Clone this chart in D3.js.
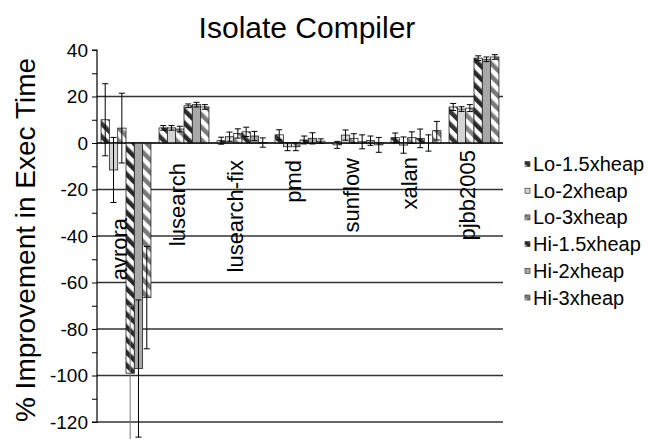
<!DOCTYPE html>
<html>
<head>
<meta charset="utf-8">
<script src="https://cdnjs.cloudflare.com/ajax/libs/d3/7.8.5/d3.min.js"></script>
<style>
body { margin: 0; background: #fff; }
text { font-family: "Liberation Sans", Arial, sans-serif; fill: #000; }
</style>
</head>
<body>
<svg></svg>
<script>
// benchmark groups and series
var benchmarks = ["avrora", "lusearch", "lusearch-fix", "pmd", "sunflow", "xalan", "pjbb2005"]
var seriesNames = ["Lo-1.5xheap", "Lo-2xheap", "Lo-3xheap", "Hi-1.5xheap", "Hi-2xheap", "Hi-3xheap"]

var lo15 = [10, 6.5, 1, 3.5, -0.8, 2.3, 15.5]
var lo2 = [-11.6, 6.5, 2.7, -1.6, 3.4, -0.9, 14.6]
var lo3 = [6.4, 6, 4.1, -1.6, 2, 2.3, 15]
var hi15 = [-99, 16, 4.8, 1.3, 0.5, 2, 36.5]
var hi2 = [-97, 16.5, 3, 2, 1, 0, 36]
var hi3 = [-66.5, 15.5, 0.2, 0.8, -0.8, 5.3, 37]

var lo15Err = [15.5, 1, 1.5, 2.2, 1.5, 2, 1.5]
var lo2Err = [14, 1, 2, 1.7, 2.2, 3.5, 1]
var lo3Err = [15, 1.2, 2, 1.7, 2, 2.5, 1.5]
var hi15Err = [29, 0.8, 2, 1.7, 3, 4, 1]
var hi2Err = [29.5, 1, 2, 2.4, 2, 3.5, 1]
var hi3Err = [22, 1, 2, 1, 3.2, 4, 1]

var yTicks = [-120, -100, -80, -60, -40, -20, 0, 20, 40]

var values = [lo15, lo2, lo3, hi15, hi2, hi3]
var errors = [lo15Err, lo2Err, lo3Err, hi15Err, hi2Err, hi3Err]

var margin = {top: 50, right: 145, bottom: 17, left: 97}
var W = 648, H = 439
var width = W - margin.left - margin.right
var height = H - margin.top - margin.bottom

var svg = d3.select("svg").attr("width", W).attr("height", H)

// fills: hatched patterns and plain greys
var fills = [
  {hatch: true, fg: "#333"},
  {hatch: false, fg: "#d4d4d4"},
  {hatch: true, fg: "#858585"},
  {hatch: true, fg: "#2a2a2a"},
  {hatch: false, fg: "#a8a8a8"},
  {hatch: true, fg: "#7a7a7a"}
]
var defs = svg.append("defs")
fills.forEach(function(f, i) {
  if (!f.hatch) return
  var p = defs.append("pattern")
    .attr("id", "hatch" + i)
    .attr("patternUnits", "userSpaceOnUse")
    .attr("width", 9).attr("height", 9)
    .attr("patternTransform", "rotate(-45)")
  p.append("rect").attr("width", 9).attr("height", 9).attr("fill", "#fff")
  p.append("rect").attr("width", 4.5).attr("height", 9).attr("fill", f.fg)
})
function fillOf(i) { return fills[i].hatch ? "url(#hatch" + i + ")" : fills[i].fg }

var g = svg.append("g").attr("transform", "translate(" + margin.left + "," + margin.top + ")")

var y = d3.scaleLinear().domain([-120, 40]).range([height, 0])
var x0 = d3.scaleBand().domain(benchmarks).range([0, width]).paddingInner(0.14).paddingOuter(0.07)
var x1 = d3.scaleBand().domain(seriesNames).range([0, x0.bandwidth()])

// gridlines
g.append("g").selectAll("line")
  .data(yTicks.filter(function(d) { return d < 40 }))
  .enter().append("line")
  .attr("x1", 0).attr("x2", width)
  .attr("y1", function(d) { return y(d) }).attr("y2", function(d) { return y(d) })
  .attr("stroke", "#333").attr("stroke-width", 1.4)

// bars
var groups = g.append("g").selectAll("g")
  .data(benchmarks)
  .enter().append("g")
  .attr("transform", function(d) { return "translate(" + x0(d) + ",0)" })

groups.each(function(b, bi) {
  var sel = d3.select(this)
  seriesNames.forEach(function(s, si) {
    var v = values[si][bi]
    sel.append("rect")
      .attr("x", x1(s))
      .attr("width", x1.bandwidth())
      .attr("y", y(Math.max(0, v)))
      .attr("height", Math.abs(y(v) - y(0)))
      .attr("fill", fillOf(si))
      .attr("stroke", "#222")
      .attr("stroke-width", 0.8)
  })
})

// error bars
groups.each(function(b, bi) {
  var sel = d3.select(this)
  seriesNames.forEach(function(s, si) {
    var v = values[si][bi], e = errors[si][bi]
    var cx = x1(s) + x1.bandwidth() / 2
    var col = (bi === 0 && si === 3) ? "#777" : "#000"
    sel.append("line").attr("x1", cx).attr("x2", cx)
      .attr("y1", y(v + e)).attr("y2", y(v - e))
      .attr("stroke", col).attr("stroke-width", 1)
    ;[v + e, v - e].forEach(function(t) {
      sel.append("line").attr("x1", cx - 3).attr("x2", cx + 3)
        .attr("y1", y(t)).attr("y2", y(t))
        .attr("stroke", col).attr("stroke-width", 1)
    })
  })
})

// zero line
g.append("line").attr("x1", 0).attr("x2", width)
  .attr("y1", y(0)).attr("y2", y(0)).attr("stroke", "#000").attr("stroke-width", 1.2)

// y axis
var yAxis = d3.axisLeft(y).tickValues(d3.range(-120, 41, 10)).tickSize(5)
  .tickFormat(function(d) { return d % 20 === 0 ? d : "" })
var ya = g.append("g").call(yAxis)
ya.select(".domain").attr("stroke", "#000").attr("stroke-width", 1.2).attr("d", "M-5," + y(40) + "H0V" + y(-120) + "H-5")
ya.selectAll("text").style("font-size", "19px").attr("x", -9)
ya.selectAll("line").attr("stroke", "#000")

// category labels
var labelTop = [218, 163, 160, 160, 158, 157, 150]
g.append("g").selectAll("text")
  .data(benchmarks)
  .enter().append("text")
  .attr("transform", function(d, i) {
    return "translate(" + (x0(d) - x0.paddingInner() * x0.step() / 2 + 30) + "," + (labelTop[i] - margin.top) + ") rotate(-90)"
  })
  .attr("text-anchor", "end")
  .style("font-size", "22px")
  .text(function(d) { return d })

// title
svg.append("text").attr("x", 307).attr("y", 38).attr("text-anchor", "middle")
  .style("font-size", "30px").text("Isolate Compiler")

// y title
svg.append("text").attr("transform", "translate(35,240) rotate(-90)")
  .attr("text-anchor", "middle").style("font-size", "28px")
  .text("% Improvement in Exec Time")

// legend
var legend = svg.append("g").selectAll("g")
  .data(seriesNames)
  .enter().append("g")
  .attr("transform", function(d, i) { return "translate(525," + (164 + i * 26.7) + ")" })
legend.append("rect").attr("x", 0).attr("y", -2.5).attr("width", 5).attr("height", 5)
  .attr("fill", function(d, i) { return fillOf(i) }).attr("stroke", "#222").attr("stroke-width", 0.6)
legend.append("text").attr("x", 8).attr("dy", "0.35em").style("font-size", "20px")
  .text(function(d) { return d })
</script>
</body>
</html>
